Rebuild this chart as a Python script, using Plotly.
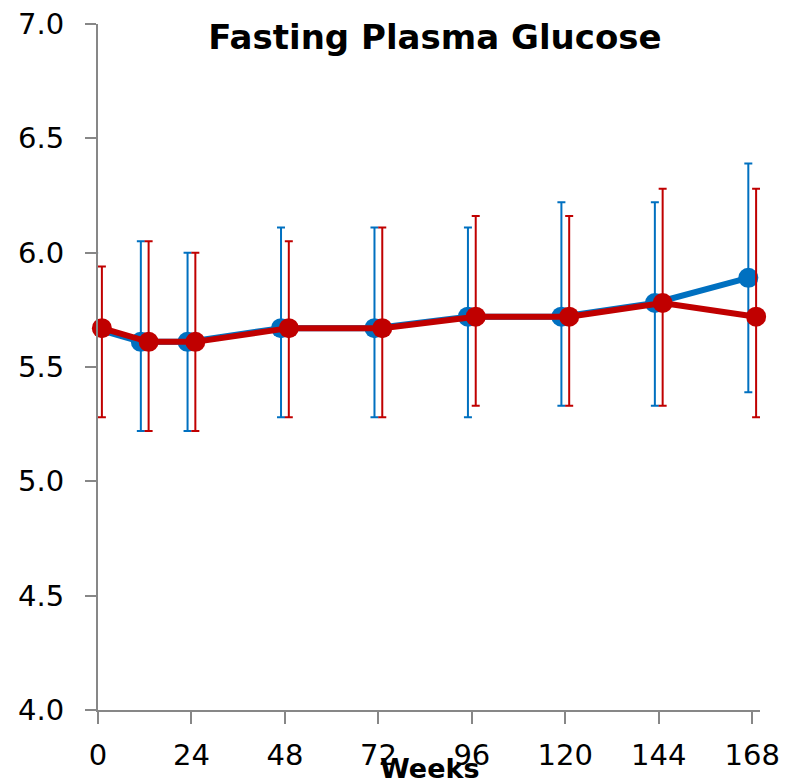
import plotly.graph_objects as go

# Weeks of follow-up
weeks = [0, 12, 24, 48, 72, 96, 120, 144, 168]
tick_weeks = [0, 24, 48, 72, 96, 120, 144, 168]

# Fasting plasma glucose (mmol/L): central value and interval bounds
blue_mid = [5.67, 5.61, 5.61, 5.67, 5.67, 5.72, 5.72, 5.78, 5.89]
blue_hi = [6.00, 6.05, 6.00, 6.11, 6.11, 6.11, 6.22, 6.22, 6.39]
blue_lo = [5.28, 5.22, 5.22, 5.28, 5.28, 5.28, 5.33, 5.33, 5.39]

red_mid = [5.67, 5.61, 5.61, 5.67, 5.67, 5.72, 5.72, 5.78, 5.72]
red_hi = [5.94, 6.05, 6.00, 6.05, 6.11, 6.16, 6.16, 6.28, 6.28]
red_lo = [5.28, 5.22, 5.22, 5.28, 5.28, 5.33, 5.33, 5.33, 5.28]

BLUE = "#0070C0"
RED = "#C00000"
AXIS = "#878787"
DODGE = 1.0  # small horizontal shift so the two groups' bars don't overlap


def series(mid, hi, lo, color, shift):
    return go.Scatter(
        x=[w + shift for w in weeks],
        y=mid,
        mode="lines+markers",
        line=dict(color=color, width=6),
        marker=dict(color=color, size=20),
        error_y=dict(
            type="data",
            symmetric=False,
            array=[h - m for h, m in zip(hi, mid)],
            arrayminus=[m - l for m, l in zip(mid, lo)],
            color=color,
            thickness=2,
            width=4,
        ),
        cliponaxis=False,
        showlegend=False,
    )


fig = go.Figure()
fig.add_trace(series(blue_mid, blue_hi, blue_lo, BLUE, -DODGE))
fig.add_trace(series(red_mid, red_hi, red_lo, RED, DODGE))

fig.update_layout(
    width=792,
    height=783,
    margin=dict(l=98, r=32, t=24, b=73, autoexpand=False),
    paper_bgcolor="white",
    plot_bgcolor="white",
    title=dict(
        text="Fasting Plasma Glucose",
        font=dict(family="DejaVu Sans", size=34, color="black", weight="bold"),
        xref="paper",
        x=0.509,
        xanchor="center",
        yref="container",
        y=1 - 37 / 783,
        yanchor="middle",
    ),
    xaxis=dict(
        range=[0, 170],
        automargin=False,
        tickvals=tick_weeks,
        ticktext=[str(t) for t in tick_weeks],
        showgrid=False,
        zeroline=False,
        showline=True,
        linecolor=AXIS,
        linewidth=2,
        ticks="outside",
        ticklen=12,
        tickwidth=2,
        tickcolor=AXIS,
        ticklabelstandoff=6,
        tickfont=dict(family="DejaVu Sans", size=29, color="black"),
    ),
    yaxis=dict(
        range=[4.0, 7.0],
        automargin=False,
        tickvals=[4.0, 4.5, 5.0, 5.5, 6.0, 6.5, 7.0],
        ticktext=["4.0", "4.5", "5.0", "5.5", "6.0", "6.5", "7.0"],
        showgrid=False,
        zeroline=False,
        showline=True,
        linecolor=AXIS,
        linewidth=2,
        ticks="outside",
        ticklen=11,
        tickwidth=2,
        tickcolor=AXIS,
        ticklabelstandoff=15,
        tickfont=dict(family="DejaVu Sans", size=29, color="black"),
    ),
    annotations=[
        dict(
            text="Weeks",
            xref="paper",
            yref="paper",
            x=0.5,
            y=(710 - 768) / 686,
            xanchor="center",
            yanchor="middle",
            showarrow=False,
            font=dict(family="DejaVu Sans", size=27, color="black", weight="bold"),
        )
    ],
)

fig.write_html("out.html")
